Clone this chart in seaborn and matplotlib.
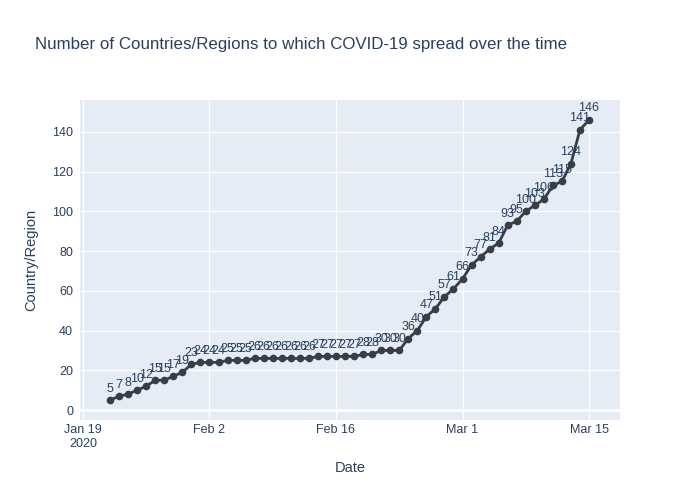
import pandas as pd
import numpy as np
import matplotlib
matplotlib.use('Agg')
import matplotlib.pyplot as plt
import matplotlib.dates as mdates
import seaborn as sns

# --- Data ---
START_DATE = '2020-01-22'
COUNTRY_COUNTS = [5, 7, 8, 10, 12, 15, 15, 17, 19, 23,
                  24, 24, 24, 25, 25, 25, 26, 26, 26, 26, 26, 26, 26,
                  27, 27, 27, 27, 27, 28, 28, 30, 30, 30,
                  36, 40, 47, 51, 57, 61, 66, 73, 77, 81, 84, 93, 95,
                  100, 103, 106, 113, 115, 124, 141, 146]
TICK_DATES = ['2020-01-19', '2020-02-02', '2020-02-16', '2020-03-01', '2020-03-15']
TICK_LABELS = ['Jan 19\n2020', 'Feb 2', 'Feb 16', 'Mar 1', 'Mar 15']

TEXT_COLOR = '#2a3f5f'
LINE_COLOR = '#393e46'
BG_COLOR = '#e5ecf6'

df = pd.DataFrame({
    'Date': pd.date_range(START_DATE, periods=len(COUNTRY_COUNTS), freq='D'),
    'Country/Region': COUNTRY_COUNTS,
})

sns.set_style('whitegrid')
plt.rcParams['font.family'] = ['Liberation Sans', 'DejaVu Sans']

fig = plt.figure(figsize=(7, 5), dpi=100)
ax = fig.add_axes([80 / 700, 80 / 500, 540 / 700, 320 / 500])
ax.set_facecolor(BG_COLOR)

sns.lineplot(data=df, x='Date', y='Country/Region', ax=ax, color=LINE_COLOR,
             linewidth=2, marker='o', markersize=5.5, markeredgewidth=0, zorder=3)

# value labels above each point (overlap like the original)
for d, v in zip(df['Date'], df['Country/Region']):
    ax.annotate(str(v), (mdates.date2num(d), v), xytext=(0, 4), textcoords='offset points',
                ha='center', va='bottom', fontsize=9, color=TEXT_COLOR, zorder=4)

# axes styling like plotly
x0 = mdates.date2num(pd.Timestamp('2020-01-19'))
ax.set_xlim(x0 - 0.33, x0 + 56 + 3.43)
ax.set_ylim(-5.0, 156)
ax.set_xticks([mdates.date2num(pd.Timestamp(t)) for t in TICK_DATES])
ax.set_xticklabels(TICK_LABELS)
ax.set_yticks(np.arange(0, 141, 20))

ax.grid(True, color='white', linewidth=1)
ax.axhline(0, color='white', linewidth=2, zorder=1)
for s in ax.spines.values():
    s.set_visible(False)
ax.tick_params(axis='both', length=0, labelsize=9, labelcolor=TEXT_COLOR, pad=5)
ax.tick_params(axis='x', pad=3)

ax.set_xlabel('Date', fontsize=10.5, color=TEXT_COLOR, labelpad=8)
ax.set_ylabel('Country/Region', fontsize=10.5, color=TEXT_COLOR, labelpad=10)

fig.text(35 / 700, 1 - 45 / 500, 'Number of Countries/Regions to which COVID-19 spread over the time',
         fontsize=12.2, color=TEXT_COLOR, ha='left', va='center')

fig.savefig('out.png', dpi=100)
